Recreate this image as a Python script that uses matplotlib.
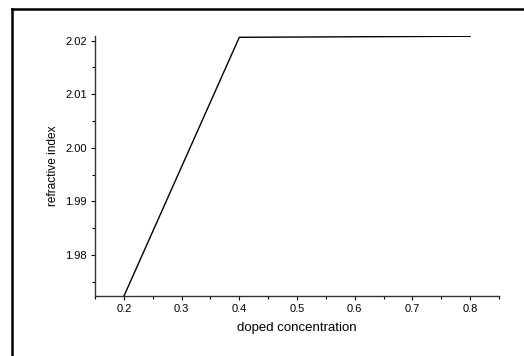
import matplotlib
matplotlib.use("Agg")
import matplotlib.pyplot as plt
from matplotlib.lines import Line2D
from matplotlib.ticker import MultipleLocator

plt.rcParams['font.family'] = ['Liberation Sans', 'DejaVu Sans']

# doped concentration vs refractive index
concentration = [0.2, 0.4, 0.8]
refractive_index = [1.9723, 2.0206, 2.0208]

fig = plt.figure(figsize=(5.24, 3.56), dpi=100)
ax = fig.add_axes([95 / 524, 60 / 356, 404 / 524, 260.3 / 356])

ax.plot(concentration, refractive_index, color='black', linewidth=1.0)

ax.set_xlim(0.15, 0.85)
ax.set_ylim(1.97235, 2.0209)
ax.xaxis.set_major_locator(MultipleLocator(0.1))
ax.xaxis.set_minor_locator(MultipleLocator(0.05))
ax.yaxis.set_major_locator(MultipleLocator(0.01))
ax.yaxis.set_minor_locator(MultipleLocator(0.005))
ax.xaxis.set_major_formatter(plt.FormatStrFormatter('%.1f'))
ax.yaxis.set_major_formatter(plt.FormatStrFormatter('%.2f'))

for side in ['top', 'right']:
    ax.spines[side].set_visible(False)
for side in ['left', 'bottom']:
    ax.spines[side].set_linewidth(1.0)
    ax.spines[side].set_color('#333333')

ax.tick_params(which='major', direction='out', length=3, width=0.8, labelsize=8, pad=3)
ax.tick_params(which='minor', direction='out', length=2.5, width=0.8)

ax.set_xlabel('doped concentration', fontsize=9.5, labelpad=5.5)
ax.set_ylabel('refractive index', fontsize=8.6, labelpad=4)

# outer frame: left and top edges only
fig.add_artist(Line2D([12 / 524, 12 / 524], [0, (356 - 9) / 356],
                      transform=fig.transFigure, color='black', linewidth=1.8))
fig.add_artist(Line2D([12 / 524, 1], [(356 - 9) / 356, (356 - 9) / 356],
                      transform=fig.transFigure, color='black', linewidth=1.8))

fig.savefig('out.png', dpi=100)
